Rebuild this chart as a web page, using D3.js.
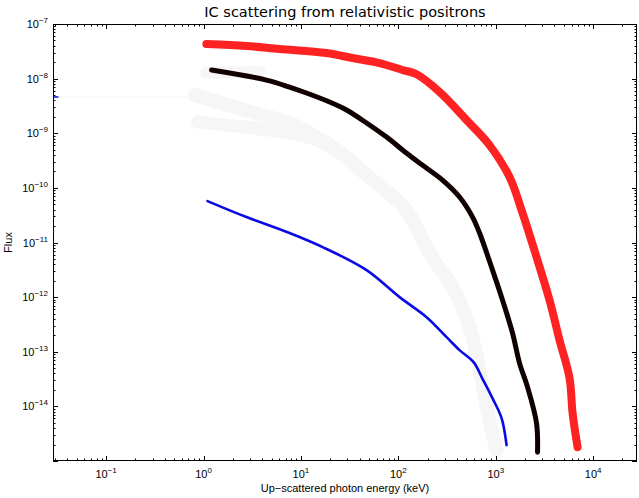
<!DOCTYPE html>
<html>
<head>
<meta charset="utf-8">
<script src="https://cdn.jsdelivr.net/npm/d3@7"></script>
<style>
  body { margin: 0; background: #fff; }
  text { font-family: "Liberation Sans", Arial, sans-serif; }
</style>
</head>
<body>
<div id="chart"></div>
<script>
// Energies (keV) and fluxes
const redE = [1.07, 2.76, 6.03, 18.3, 33.9, 64.1, 110, 154, 265, 501, 863, 1386, 1884, 2623, 3566, 4519, 5727, 6150, 6918];
const redF = [4.3e-8, 3.95e-8, 3.48e-8, 2.94e-8, 2.38e-8, 1.93e-8, 1.44e-8, 1.2e-8, 5.69e-9, 1.75e-9, 6.08e-10, 1.58e-10, 3.45e-11, 5.4e-12, 8.8e-13, 1.63e-13, 3.28e-14, 7.5e-15, 1.79e-15];

const blackE = [1.21, 4.43, 7.64, 11.4, 19.7, 29.4, 47.2, 75.7, 121, 165, 284, 425, 578, 682, 927, 1175, 1487, 1754, 2120, 2623, 2685];
const blackF = [1.44e-8, 9.4e-9, 7.0e-9, 5.45e-9, 3.73e-9, 2.66e-9, 1.54e-9, 8.5e-10, 4.34e-10, 2.84e-10, 1.39e-10, 6.8e-11, 2.92e-11, 1.49e-11, 3.12e-12, 8.8e-13, 2.19e-13, 6.2e-14, 2.25e-14, 4.9e-15, 1.45e-15];

const blueE = [1.10, 2.76, 7.64, 16.7, 47.2, 103, 195, 313, 425, 592, 731, 927, 1148, 1291];
const blueF = [5.73e-11, 2.92e-11, 1.49e-11, 8.24e-12, 3.12e-12, 1.0e-12, 4.3e-13, 1.85e-13, 1.07e-13, 6.45e-14, 3.2e-14, 1.4e-14, 6.08e-15, 1.95e-15];

const blueStubE = [0.028, 0.032];
const blueStubF = [4.6e-9, 4.6e-9];

// faint grey bands
const greyUpE = [0.81, 3.11, 8.6, 23.2, 54.3, 121, 209, 360, 538, 682, 863, 1019];
const greyUpF = [5.0e-9, 2.44e-9, 1.41e-9, 4.92e-10, 1.39e-10, 3.92e-11, 6.4e-12, 1.52e-12, 2.82e-13, 4.6e-14, 5.6e-15, 1.58e-15];
const greyLowE = [0.87, 4.54, 12.8, 23.2];
const greyLowF = [1.6e-9, 1.15e-9, 8.2e-10, 4.92e-10];
const greyTopE = [1.07, 3.76];
const greyTopF = [1.27e-8, 1.32e-8];
const greyThinE = [0.028, 0.81];
const greyThinF = [4.6e-9, 4.6e-9];

const xTicks = [1e-1, 1e0, 1e1, 1e2, 1e3, 1e4];
const xTickExp = ["\u22121", "0", "1", "2", "3", "4"];
const yTicks = [1e-7, 1e-8, 1e-9, 1e-10, 1e-11, 1e-12, 1e-13, 1e-14];
const yTickExp = ["\u22127", "\u22128", "\u22129", "\u221210", "\u221211", "\u221212", "\u221213", "\u221214"];

const W = 639, H = 498;
const margin = { top: 24, right: 2, bottom: 37, left: 53 };
const width = W - margin.left - margin.right;
const height = H - margin.top - margin.bottom;

const svg = d3.select("#chart")
  .append("svg")
    .attr("width", W)
    .attr("height", H);

const g = svg.append("g")
    .attr("transform", `translate(${margin.left},${margin.top})`);

const x = d3.scaleLog()
    .domain([Math.pow(10, -1.545), Math.pow(10, 4.45)])
    .range([0, width]);

const y = d3.scaleLog()
    .domain([1e-15, 1e-7])
    .range([height, 0]);

g.append("clipPath").attr("id", "clip")
  .append("rect").attr("width", width).attr("height", height);

const plot = g.append("g").attr("clip-path", "url(#clip)");

const line = d3.line()
    .x(d => x(d[0]))
    .y(d => y(d[1]))
    .curve(d3.curveCatmullRom.alpha(0.5));

function drawSeries(E, F, color, w) {
    plot.append("path")
        .datum(E.map((e, i) => [e, F[i]]))
        .attr("fill", "none")
        .attr("stroke", color)
        .attr("stroke-width", w)
        .attr("stroke-linejoin", "round")
        .attr("stroke-linecap", "round")
        .attr("d", line);
}

drawSeries(greyThinE, greyThinF, "#f9f9f9", 1.5);
drawSeries(greyUpE, greyUpF, "#f6f6f6", 14);
drawSeries(greyLowE, greyLowF, "#f6f6f6", 13);
drawSeries(greyTopE, greyTopF, "#f6f6f6", 12);
drawSeries(blueE, blueF, "#0a0ae6", 2.6);
drawSeries(blueStubE, blueStubF, "#0a0ae6", 1.5);
drawSeries(blackE, blackF, "#100000", 5);
drawSeries(redE, redF, "#ff2222", 8);

// minor tick values
const xMinor = [];
for (let p = -2; p <= 4; p++) {
    for (let m = 2; m <= 9; m++) {
        const v = m * Math.pow(10, p);
        if (v >= x.domain()[0] && v <= x.domain()[1]) xMinor.push(v);
    }
}
const yMinor = [];
for (let p = -15; p <= -8; p++) {
    for (let m = 2; m <= 9; m++) yMinor.push(m * Math.pow(10, p));
}

const ticks = g.append("g").attr("stroke", "#000").attr("stroke-width", 1);

function xTickMarks(vals, len) {
    vals.forEach(v => {
        const px = Math.round(x(v)) + 0.5;
        ticks.append("line").attr("x1", px).attr("x2", px).attr("y1", height).attr("y2", height - len);
        ticks.append("line").attr("x1", px).attr("x2", px).attr("y1", 0).attr("y2", len);
    });
}
function yTickMarks(vals, len) {
    vals.forEach(v => {
        const py = Math.round(y(v)) + 0.5;
        ticks.append("line").attr("x1", 0).attr("x2", len).attr("y1", py).attr("y2", py);
        ticks.append("line").attr("x1", width).attr("x2", width - len).attr("y1", py).attr("y2", py);
    });
}
xTickMarks(xTicks, 5);
xTickMarks(xMinor, 2.5);
yTickMarks(yTicks.concat([1e-15]), 5);
yTickMarks(yMinor, 2.5);

// frame
g.append("rect")
    .attr("x", 0.5).attr("y", 0.5)
    .attr("width", width - 1).attr("height", height - 1)
    .attr("fill", "none")
    .attr("stroke", "#000")
    .attr("stroke-width", 1);

// x tick labels
xTicks.forEach((v, i) => {
    const t = g.append("text")
        .attr("x", x(v))
        .attr("y", height + 17)
        .attr("text-anchor", "middle")
        .attr("font-size", 11);
    t.append("tspan").text("10");
    t.append("tspan").attr("dy", -5).attr("font-size", 8).text(xTickExp[i]);
});

// y tick labels
yTicks.forEach((v, i) => {
    const t = g.append("text")
        .attr("x", -5)
        .attr("y", y(v) + 4)
        .attr("text-anchor", "end")
        .attr("font-size", 11);
    t.append("tspan").text("10");
    t.append("tspan").attr("dy", -5).attr("font-size", 8).text(yTickExp[i]);
});

// title and axis labels
svg.append("text")
    .attr("x", margin.left + width / 2)
    .attr("y", 17)
    .attr("text-anchor", "middle")
    .style("font-family", "'DejaVu Sans', sans-serif")
    .attr("font-size", 14.5)
    .text("IC scattering from relativistic positrons");

svg.append("text")
    .attr("x", margin.left + width / 2)
    .attr("y", 492)
    .attr("text-anchor", "middle")
    .attr("font-size", 11)
    .text("Up\u2212scattered photon energy (keV)");

svg.append("text")
    .attr("transform", `translate(12,${margin.top + height / 2}) rotate(-90)`)
    .attr("text-anchor", "middle")
    .attr("font-size", 11)
    .text("Flux");
</script>
</body>
</html>
